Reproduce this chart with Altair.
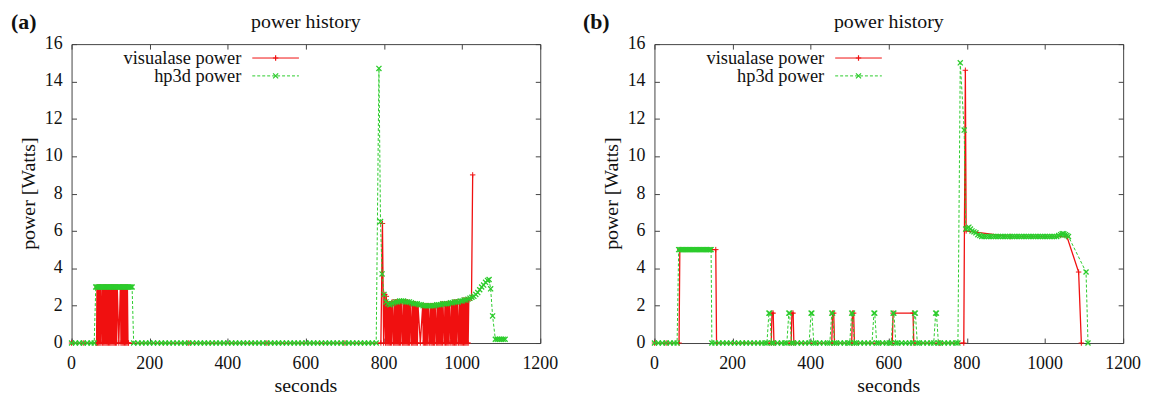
import altair as alt
import pandas as pd

# ---------------- texts / ticks ----------------
x_ticks = [0, 200, 400, 600, 800, 1000, 1200]
y_ticks = [0, 2, 4, 6, 8, 10, 12, 14, 16]
legend_labels = ["visualase power", "hp3d power"]
panel_title = "power history"
panel_tags = ["(a)", "(b)"]
x_title = "seconds"
y_title = "power [Watts]"

# ---------------- panel (a): visualase power ----------------
vis_a_t = [0, 30, 62, 64, 65, 66.5, 68, 69.5, 71, 72.5,
           74, 75.5, 78, 79.5, 81, 82.5, 84, 85.5, 87, 88.5,
           90, 91.5, 93, 94.5, 96, 97.5, 99, 100.5, 102, 103.5,
           105, 106.5, 108, 109.5, 111, 112.5, 114, 115.5, 117, 121,
           125, 126.5, 128, 129.5, 131, 132.5, 134, 135.5, 137, 138.5,
           140, 141.5, 143, 144.5, 146, 300, 500, 700, 792, 796,
           799, 802, 804, 806, 807.5, 809, 810.5, 812, 813.5, 815,
           816.5, 818, 819.5, 821, 824, 826, 827.5, 829, 830.5, 832,
           833.5, 835, 836.5, 838, 839.5, 841, 842.5, 844, 847, 849,
           850.5, 852, 853.5, 855, 856.5, 858, 859.5, 861, 862.5, 864,
           865.5, 867, 870, 872, 873.5, 875, 876.5, 878, 879.5, 881,
           882.5, 884, 885.5, 887, 893, 899, 900.5, 902, 903.5, 905,
           906.5, 908, 909.5, 911, 912.5, 914, 917, 919, 920.5, 922,
           923.5, 925, 926.5, 928, 929.5, 931, 934, 936, 937.5, 939,
           940.5, 942, 943.5, 945, 946.5, 948, 949.5, 951, 954, 956,
           957.5, 959, 960.5, 962, 963.5, 965, 966.5, 968, 971, 973,
           974.5, 976, 977.5, 979, 980.5, 982, 983.5, 985, 986.5, 988,
           991, 993, 994.5, 996, 997.5, 999, 1000.5, 1002, 1003.5, 1005,
           1006.5, 1008, 1009.5, 1011, 1012.5, 1014, 1015.5, 1017, 1024, 1027]
vis_a_p = [0, 0, 0, 0, 3.0, 0, 3.0, 0, 3.0, 0,
           3.0, 0, 3.0, 0, 3.0, 0, 3.0, 0, 3.0, 0,
           3.0, 0, 3.0, 0, 3.0, 0, 3.0, 0, 3.0, 0,
           3.0, 0, 3.0, 0, 3.0, 0, 3.0, 0, 3.0, 0,
           3.0, 0, 3.0, 0, 3.0, 0, 3.0, 0, 3.0, 0,
           3.0, 0, 3.0, 0, 0, 0, 0, 0, 0, 6.4,
           0, 2.6, 0, 2.5, 0, 2.1, 0, 2.1, 0, 2.1,
           0, 2.1, 0, 2.2, 0, 2.2, 0, 2.2, 0, 2.2,
           0, 2.2, 0, 2.2, 0, 2.2, 0, 2.2, 0, 2.2,
           0, 2.2, 0, 2.2, 0, 2.2, 0, 2.2, 0, 2.1,
           0, 2.1, 0, 2.1, 0, 2.1, 0, 2.1, 0, 2.1,
           0, 2.0, 0, 2.0, 0, 2.0, 0, 2.0, 0, 2.0,
           0, 2.0, 0, 2.0, 0, 2.0, 0, 2.0, 0, 2.0,
           0, 2.0, 0, 2.0, 0, 2.0, 0, 2.0, 0, 2.0,
           0, 2.0, 0, 2.0, 0, 2.1, 0, 2.1, 0, 2.1,
           0, 2.1, 0, 2.1, 0, 2.1, 0, 2.1, 0, 2.1,
           0, 2.1, 0, 2.2, 0, 2.2, 0, 2.2, 0, 2.2,
           0, 2.2, 0, 2.2, 0, 2.2, 0, 2.3, 0, 2.3,
           0, 2.3, 0, 2.3, 0, 2.3, 0, 2.3, 2.4, 9.0]

# ---------------- panel (a): hp3d power ----------------
hp_a_zero_t = [0, 10, 20, 30, 40, 50, 58,
               159, 170, 180, 190, 200, 210, 220, 230, 240, 250, 260, 270, 280,
               290, 300, 310, 320, 330, 340, 350, 360, 370, 380, 390, 400, 410,
               420, 430, 440, 450, 460, 470, 480, 490, 500, 510, 520, 530, 540,
               550, 560, 570, 580, 590, 600, 610, 620, 630, 640, 650, 660, 670,
               680, 690, 700, 710, 720, 730, 740, 750, 760, 770, 780]
hp_a_block_t = [62, 65, 68, 71, 74, 77, 80, 83, 86, 89, 92, 95, 98, 101, 104, 107,
                110, 113, 116, 119, 122, 125, 128, 131, 134, 137, 140, 143, 146,
                149, 152, 155]
hp_a_block_level = 3.0
hp_a_free_t = [787, 791, 795, 800,
               805, 810, 815, 820, 825, 830, 835, 840, 845, 850,
               855, 860, 865, 870, 875, 880, 885, 890, 895, 900,
               905, 910, 915, 920, 925, 930, 935, 940, 945, 950,
               955, 960, 965, 970, 975, 980, 985, 990, 995, 1000,
               1005, 1010, 1015, 1020, 1025, 1030, 1035, 1040, 1045, 1050,
               1055, 1060, 1065,
               1069, 1073, 1078, 1085, 1090, 1095, 1100, 1105, 1110]
hp_a_free_p = [14.7, 6.5, 3.7, 2.6,
               2.2, 2.1, 2.05, 2.1, 2.15, 2.2, 2.2, 2.25, 2.25, 2.25,
               2.2, 2.2, 2.2, 2.15, 2.1, 2.1, 2.1, 2.05, 2.05, 2.0,
               2.0, 2.0, 2.0, 2.0, 2.0, 2.0, 2.05, 2.05, 2.05, 2.1,
               2.1, 2.1, 2.1, 2.15, 2.15, 2.2, 2.2, 2.2, 2.25, 2.25,
               2.3, 2.3, 2.35, 2.4, 2.45, 2.5, 2.6, 2.7, 2.85, 3.0,
               3.1, 3.25, 3.35,
               3.4, 2.9, 1.45, 0.2, 0.2, 0.2, 0.2, 0.2, 0.2]

# ---------------- panel (b): visualase power ----------------
vis_b_t = [0, 30, 63, 65, 157, 159, 230, 299, 301, 304,
           306, 350, 352, 355, 357, 454, 456, 459, 461, 505,
           507, 510, 512, 609, 611, 662, 664, 730, 792, 796,
           798, 911, 1056, 1086, 1093]
vis_b_p = [0, 0, 0, 5.0, 5.0, 0, 0, 0, 1.6, 1.6,
           0, 0, 1.6, 1.6, 0, 0, 1.6, 1.6, 0, 0,
           1.6, 1.6, 0, 0, 1.6, 1.6, 0, 0, 0, 14.6,
           6.0, 5.7, 5.7, 3.8, 0]

# ---------------- panel (b): hp3d power ----------------
hp_b_zero_t = [0, 10, 20, 30, 40, 50, 58, 147, 155, 165, 175, 185, 195, 205,
               215, 225, 235, 245, 255, 265, 275, 283, 305, 315, 325, 334, 356,
               366, 376, 386, 413, 423, 433, 443, 466, 476, 486, 495, 517, 527,
               537, 547, 574, 584, 594, 601, 623, 633, 643, 653, 678, 688, 698,
               708, 732, 742, 752, 762, 772, 777]
hp_b_block_t = [62, 65, 68, 71, 74, 77, 80, 83, 86, 89, 92, 95, 98, 101, 104,
                107, 110, 113, 116, 119, 122, 125, 128, 131, 134, 137, 140, 143, 145]
hp_b_block_level = 5.0
hp_b_pulse_t = [288, 293, 295, 300, 339, 344, 346, 351, 396, 401, 403, 408,
                449, 454, 456, 461, 500, 505, 507, 512, 557, 562, 564, 569,
                606, 611, 613, 618, 661, 666, 668, 673, 715, 720, 722, 727]
hp_b_pulse_p = [0, 1.6, 1.6, 0, 0, 1.6, 1.6, 0, 0, 1.6, 1.6, 0,
                0, 1.6, 1.6, 0, 0, 1.6, 1.6, 0, 0, 1.6, 1.6, 0,
                0, 1.6, 1.6, 0, 0, 1.6, 1.6, 0, 0, 1.6, 1.6, 0]
hp_b_plateau_t = [838, 844, 850, 856, 862, 868, 874, 880, 886, 892, 898, 904,
                  910, 916, 922, 928, 934, 940, 946, 952, 958, 964, 970, 976,
                  982, 988, 994, 1000, 1006, 1012, 1018, 1024, 1030]
hp_b_plateau_level = 5.7
hp_b_free_t = [783, 793, 797, 801, 805, 809, 813, 818, 823, 828,
               833, 1035, 1040, 1044, 1048, 1052, 1056, 1060, 1105, 1110]
hp_b_free_p = [15.0, 11.4, 6.1, 6.15, 6.2, 6.1, 6.0, 5.95, 5.9, 5.8,
               5.75, 5.75, 5.8, 5.85, 5.85, 5.8, 5.75, 5.7, 3.8, 0]

assert len(vis_a_t) == len(vis_a_p)
assert len(hp_a_free_t) == len(hp_a_free_p)
assert len(vis_b_t) == len(vis_b_p)
assert len(hp_b_pulse_t) == len(hp_b_pulse_p)
assert len(hp_b_free_t) == len(hp_b_free_p)

# ---------------- tables ----------------
def table(t, p):
    return pd.DataFrame({"t": t, "p": p})

dv_a = table(vis_a_t, vis_a_p)
dh_a = table(hp_a_zero_t + hp_a_block_t + hp_a_free_t,
             [0.0] * len(hp_a_zero_t) + [hp_a_block_level] * len(hp_a_block_t) + hp_a_free_p)
dv_b = table(vis_b_t, vis_b_p)
dh_b = table(hp_b_zero_t + hp_b_block_t + hp_b_pulse_t + hp_b_plateau_t + hp_b_free_t,
             [0.0] * len(hp_b_zero_t) + [hp_b_block_level] * len(hp_b_block_t)
             + hp_b_pulse_p + [hp_b_plateau_level] * len(hp_b_plateau_t) + hp_b_free_p)
x_tick_df = pd.DataFrame({"t": x_ticks, "lab": [str(v) for v in x_ticks]})
y_tick_df = pd.DataFrame({"p": y_ticks, "lab": [str(v) for v in y_ticks]})

# ---------------- style ----------------
W, H = 472, 301
FONT = "Liberation Serif"
RED = "#f01010"
GREEN = "#2ccc2c"
PLUS = "M-1,0L1,0M0,-1L0,1"
CROSS = "M-1,-1L1,1M-1,1L1,-1"
TXT = "#111111"
AX = dict(tickColor="#444444", tickWidth=1, domain=False, grid=False, offset=-5,
          tickSize=5, labels=False, title=None)


def panel(dv, dh, tag, tag_x):
    xs = alt.Scale(domain=[0, 1200], nice=False, zero=False)
    ys = alt.Scale(domain=[0, 16], nice=False)
    x_main = alt.X("t:Q", scale=xs, axis=alt.Axis(orient="bottom", values=x_ticks, **AX))
    y_main = alt.Y("p:Q", scale=ys, axis=alt.Axis(orient="left", values=y_ticks, **AX))
    x_none = alt.X("t:Q", scale=xs, axis=None)
    y_none = alt.Y("p:Q", scale=ys, axis=None)
    x_top = alt.X("t:Q", scale=xs, axis=alt.Axis(orient="top", values=x_ticks, **AX))
    y_right = alt.Y("p:Q", scale=ys, axis=alt.Axis(orient="right", values=y_ticks, **AX))

    red_line = alt.Chart(dv).mark_line(color=RED, strokeWidth=1.3).encode(x=x_main, y=y_main)
    red_pts = alt.Chart(dv).mark_point(shape=PLUS, filled=False, size=30, strokeWidth=1,
                                       color=RED, opacity=1).encode(x=x_none, y=y_none)
    green_line = alt.Chart(dh).mark_line(color=GREEN, strokeWidth=1,
                                         strokeDash=[3, 2]).encode(x=x_none, y=y_none)
    green_pts = alt.Chart(dh).mark_point(shape=CROSS, filled=False, size=26, strokeWidth=1.3,
                                         color=GREEN, opacity=1).encode(x=x_none, y=y_none)
    mirror = alt.Chart(dv).mark_point(opacity=0).encode(x=x_top, y=y_right)

    # tick labels and axis titles as text
    x_labels = alt.Chart(x_tick_df).mark_text(
        font=FONT, fontSize=18, align="center", baseline="middle", color=TXT
    ).encode(x=x_none, y=alt.value(H + 21), text="lab:N")
    y_labels = alt.Chart(y_tick_df).mark_text(
        font=FONT, fontSize=18, align="right", baseline="middle", color=TXT
    ).encode(y=y_none, x=alt.value(-9), text="lab:N")
    x_ttl = alt.Chart(pd.DataFrame({"s": [x_title]})).mark_text(
        font=FONT, fontSize=20, align="center", baseline="middle", color=TXT
    ).encode(text="s:N", x=alt.value(W / 2), y=alt.value(H + 43))
    y_ttl = alt.Chart(pd.DataFrame({"s": [y_title]})).mark_text(
        font=FONT, fontSize=20, align="center", baseline="middle", angle=270, color=TXT
    ).encode(text="s:N", x=alt.value(-43), y=alt.value(H / 2))

    one = pd.DataFrame({"k": [0]})
    layers = [red_line, red_pts, green_line, green_pts, mirror,
              x_labels, y_labels, x_ttl, y_ttl]
    specs = [(legend_labels[0], RED, PLUS, 30, None, 14),
             (legend_labels[1], GREEN, CROSS, 26, [3, 2], 32)]
    for label, color, shape, size, dash, ly in specs:
        layers.append(alt.Chart(pd.DataFrame({"label": [label]})).mark_text(
            align="right", baseline="middle", font=FONT, fontSize=18.5, color=TXT
        ).encode(text="label:N", x=alt.value(171), y=alt.value(ly)))
        rule_kw = dict(color=color, strokeWidth=1)
        if dash is not None:
            rule_kw["strokeDash"] = dash
        layers.append(alt.Chart(one).mark_rule(**rule_kw).encode(
            x=alt.value(182), x2=alt.value(229), y=alt.value(ly)))
        layers.append(alt.Chart(one).mark_point(
            shape=shape, filled=False, size=size, strokeWidth=1.2, color=color, opacity=1
        ).encode(x=alt.value(205.5), y=alt.value(ly)))

    layers.append(alt.Chart(pd.DataFrame({"s": [panel_title]})).mark_text(
        font=FONT, fontSize=20, align="center", baseline="alphabetic", color=TXT
    ).encode(text="s:N", x=alt.value(W / 2), y=alt.value(-16)))
    layers.append(alt.Chart(pd.DataFrame({"s": [tag]})).mark_text(
        font=FONT, fontSize=22, fontWeight="bold", align="left", baseline="alphabetic",
        color=TXT
    ).encode(text="s:N", x=alt.value(tag_x), y=alt.value(-15)))

    return alt.layer(*layers).resolve_axis(x="independent", y="independent").properties(
        width=W, height=H)


pa = panel(dv_a, dh_a, panel_tags[0], -61)
pb = panel(dv_b, dh_b, panel_tags[1], -72)

chart = alt.hconcat(pa, pb, spacing=23).properties(
    padding={"left": 2, "top": 1, "right": 2, "bottom": 2},
    background="white",
).configure_view(
    stroke="#444444", strokeWidth=1
)

chart.save("out.html", embed_options={"renderer": "svg", "actions": False})
